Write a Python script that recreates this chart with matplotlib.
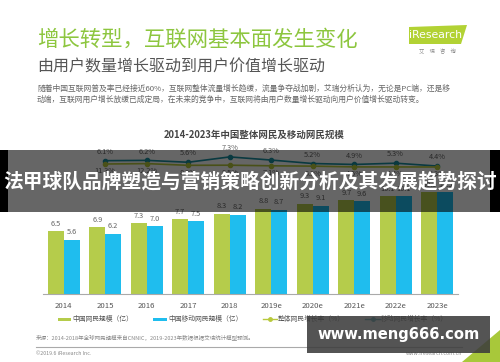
import numpy as np
import matplotlib
matplotlib.use("Agg")
import matplotlib.pyplot as plt
from matplotlib.patches import Rectangle, Polygon
from matplotlib.lines import Line2D

plt.rcParams["font.family"] = ["Noto Sans CJK SC", "DejaVu Sans"]

# ── Data ──────────────────────────────────────────────────────────────────────
years = ["2014", "2015", "2016", "2017", "2018",
         "2019e", "2020e", "2021e", "2022e", "2023e"]
netizens = [6.5, 6.9, 7.3, 7.7, 8.3, 8.8, 9.3, 9.7, 10.1, 10.5]
mobile_netizens = [5.6, 6.2, 7.0, 7.5, 8.2, 8.7, 9.1, 9.6, 10.1, 10.5]

# growth rates start in 2015
growth_years = years[1:]
total_growth = [11.3, 12.2, 8.2, 8.5, 7.1, 6.3, 4.5, 4.4, 4.3]
mobile_growth = [6.1, 6.2, 5.6, 7.3, 6.3, 5.2, 4.9, 5.3, 4.4]

GREEN = "#b5cc4b"
BLUE = "#1fbdee"
LINE_GREEN = "#b8c93c"
LINE_TEAL = "#1a8fa0"
W, H = 500, 362


def fx(x):
    return x / W


def fy(y):
    return 1 - y / H


fig = plt.figure(figsize=(5, 3.62), dpi=100)
fig.patch.set_facecolor("white")

# ── Header ────────────────────────────────────────────────────────────────────
fig.text(fx(37), fy(40), "增长转型，互联网基本面发生变化", fontsize=15.4,
         color="#8dc63f", va="center", ha="left")
fig.text(fx(37), fy(67.5), "由用户数量增长驱动到用户价值增长驱动", fontsize=11.5,
         color="#555555", va="center", ha="left")
fig.text(fx(37), fy(89),
         "随着中国互联网普及率已经接近60%，互联网整体流量增长趋缓，流量争夺战加剧，艾瑞分析认为，无论是PC端，还是移",
         fontsize=5.6, color="#666666", va="center", ha="left")
fig.text(fx(37), fy(100),
         "动端，互联网用户增长放缓已成定局，在未来的竞争中，互联网将由用户数量增长驱动向用户价值增长驱动转变。",
         fontsize=5.6, color="#666666", va="center", ha="left")

# iResearch logo
logo = Polygon([(fx(409), fy(27)), (fx(467), fy(25)), (fx(461), fy(44)), (fx(409), fy(44))],
               closed=True, transform=fig.transFigure, facecolor="#b2d234",
               edgecolor="none")
fig.add_artist(logo)
fig.text(fx(436), fy(35), "iResearch", fontsize=7.8, color="white", ha="center",
         va="center", family="DejaVu Sans")
fig.text(fx(437), fy(51), "艾　瑞　咨　询", fontsize=3.8, color="#888888",
         ha="center", va="center")

# chart title
fig.text(fx(254), fy(135), "2014-2023年中国整体网民及移动网民规模", fontsize=6.8,
         color="#444444", fontweight="bold", ha="center", va="center")

# ── Bars ──────────────────────────────────────────────────────────────────────
ax = fig.add_axes([fx(43), fy(294), fx(415), 154 / H])
x = np.arange(len(years))
bw = 0.385
ax.bar(x - bw / 2, netizens, width=bw, color=GREEN, zorder=2)
ax.bar(x + bw / 2, mobile_netizens, width=bw, color=BLUE, zorder=2)
for xi, v in zip(x, netizens):
    ax.annotate(f"{v:.1f}", (xi - bw / 2, v), xytext=(0, 2.5),
                textcoords="offset points", ha="center", va="bottom",
                fontsize=5.3, color="#666666")
for xi, v in zip(x, mobile_netizens):
    ax.annotate(f"{v:.1f}", (xi + bw / 2, v), xytext=(0, 2.5),
                textcoords="offset points", ha="center", va="bottom",
                fontsize=5.3, color="#666666")
ax.set_xlim(-0.5, len(years) - 0.5)
ax.set_ylim(0, 15.9)
ax.set_xticks(x)
ax.set_xticklabels(years, fontsize=5.6, color="#555555")
ax.tick_params(axis="x", length=0, pad=6)
ax.set_yticks([])
for s in ["top", "right", "left"]:
    ax.spines[s].set_visible(False)
ax.spines["bottom"].set_color("#aaaaaa")
ax.spines["bottom"].set_linewidth(0.8)
ax.patch.set_alpha(0)

# ── Growth lines (own band above the bars) ─────────────────────────────────────
gx = np.arange(1, len(years))
ax_t = fig.add_axes([fx(43), fy(172), fx(415), 22 / H])
ax_t.set_xlim(-0.5, len(years) - 0.5)
ax_t.axis("off")
ax_g = ax_t.twinx()
ax_g.set_xlim(-0.5, len(years) - 0.5)
ax_g.axis("off")

ax_g.plot(gx, total_growth, color=LINE_GREEN, lw=1.2, marker="o", ms=3)
ax_g.set_ylim(-7.4, 44)
for xi, v in zip(gx, total_growth):
    ax_g.annotate(f"{v:.1f}%", (xi, v), xytext=(0, -2.5), textcoords="offset points",
                  ha="center", va="top", fontsize=5.3, color="#666666")

ax_t.plot(gx, mobile_growth, color=LINE_TEAL, lw=1.2, marker="o", ms=3)
ax_t.set_ylim(2.5, 9.5)
for xi, v in zip(gx, mobile_growth):
    ax_t.annotate(f"{v:.1f}%", (xi, v), xytext=(0, 3.5), textcoords="offset points",
                  ha="center", va="bottom", fontsize=5.3, color="#666666")

# ── Legend ────────────────────────────────────────────────────────────────────
leg_y = 319
legend_items = [
    ("patch", GREEN, 58, 71, "中国网民规模（亿）"),
    ("patch", BLUE, 153, 167, "中国移动网民规模（亿）"),
    ("line", LINE_GREEN, 263, 277, "整体网民增长率（%）"),
    ("line", LINE_TEAL, 365, 380, "移动网民增长率（%）"),
]
for kind, col, x0, x1, label in legend_items:
    if kind == "patch":
        fig.add_artist(Rectangle((fx(x0), fy(leg_y + 1.5)), fx(x1 - x0), 3 / H,
                                 transform=fig.transFigure, facecolor=col,
                                 edgecolor="none"))
    else:
        fig.add_artist(Line2D([fx(x0), fx(x1)], [fy(leg_y), fy(leg_y)],
                              transform=fig.transFigure, color=col, lw=1))
        fig.add_artist(Line2D([fx((x0 + x1) / 2)], [fy(leg_y)], marker="o", ms=2.5,
                              transform=fig.transFigure, color=col))
    fig.text(fx(x1 + 1), fy(leg_y), label, fontsize=4.9, color="#555555",
             ha="left", va="center")

# ── Footer ────────────────────────────────────────────────────────────────────
fig.text(fx(36), fy(338),
         "来源：2014-2018年全球网民规模来自CNNIC，2019-2023年数据根据艾瑞统计模型预测。",
         fontsize=4.0, color="#888888", ha="left", va="center")
fig.add_artist(Line2D([fx(36), fx(462)], [fy(347), fy(347)],
                      transform=fig.transFigure, color="#aaaaaa", lw=0.8))
fig.text(fx(36), fy(353.5), "©2019.6 iResearch Inc.", fontsize=3.8,
         color="#888888", ha="left", va="center")
fig.text(fx(462), fy(353.5), "www.iresearch.com.cn", fontsize=3.8,
         color="#888888", ha="right", va="center")
fig.add_artist(Polygon([(fx(462), fy(362)), (fx(500), fy(362)), (fx(500), fy(330))],
                       closed=True, transform=fig.transFigure,
                       facecolor="#a8c83a", edgecolor="none"))

# ── Overlays: dark banner + watermark ─────────────────────────────────────────
fig.add_artist(Rectangle((0, fy(212)), 1, 62 / H, transform=fig.transFigure,
                         facecolor="black", alpha=0.6, edgecolor="none", zorder=20))
fig.add_artist(Rectangle((0, fy(212)), fx(8), 62 / H, transform=fig.transFigure,
                         facecolor="black", edgecolor="none", zorder=21))
fig.add_artist(Rectangle((fx(490), fy(212)), fx(10), 62 / H, transform=fig.transFigure,
                         facecolor="black", edgecolor="none", zorder=21))
fig.text(0.5, fy(182), "法甲球队品牌塑造与营销策略创新分析及其发展趋势探讨",
         fontsize=14.2, color="white", fontweight="bold", ha="center",
         va="center", zorder=22)

fig.add_artist(Rectangle((fx(307), fy(353)), fx(183), 37 / H, transform=fig.transFigure,
                         facecolor="#3c3c3c", alpha=0.88, edgecolor="none", zorder=20))
fig.text(fx(398.5), fy(335), "www.meng666.com", fontsize=10.6, color="white",
         fontweight="bold", family="DejaVu Sans", ha="center", va="center",
         zorder=22)

fig.savefig("out.png", dpi=100)
